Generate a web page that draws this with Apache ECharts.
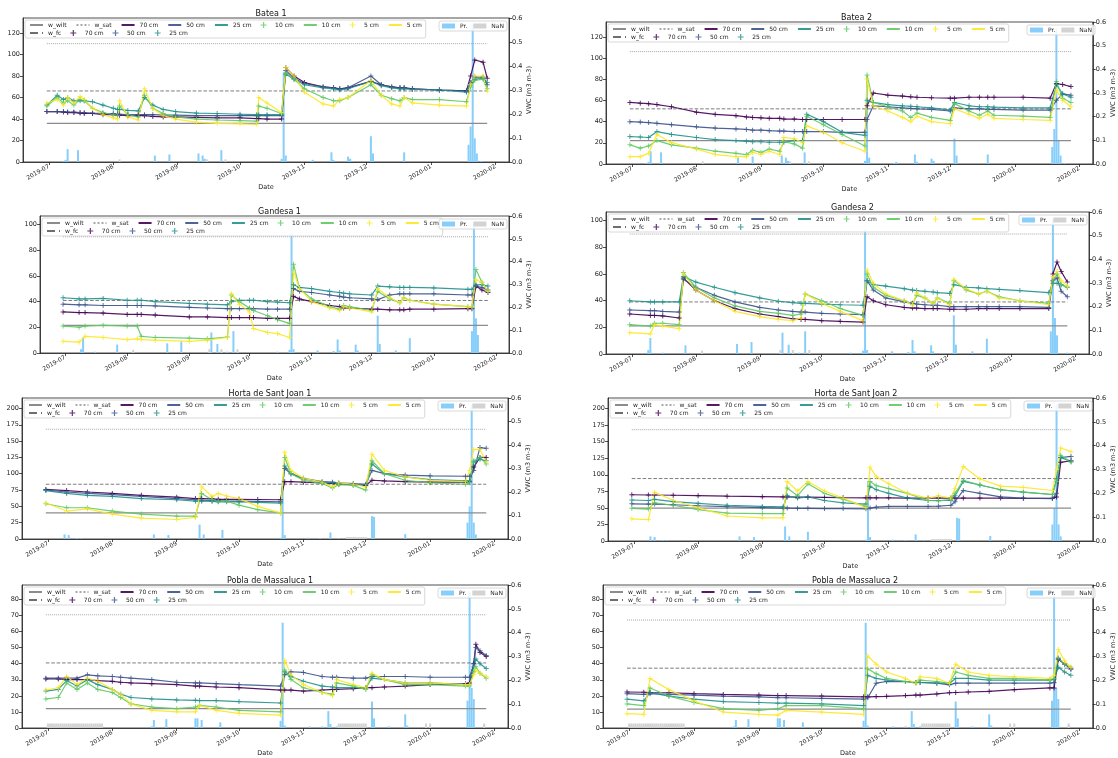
<!DOCTYPE html>
<html><head><meta charset="utf-8">
<script src="https://cdn.jsdelivr.net/npm/echarts@6/dist/echarts.min.js"></script>
<style>html,body{margin:0;padding:0;background:#fff}#c{width:1118px;height:758px}</style>
</head><body><div id="c"></div><script>
// ---------- reference lines (VWC) per panel ----------
const panelTitles = ['Batea 1','Batea 2','Gandesa 1','Gandesa 2','Horta de Sant Joan 1','Horta de Sant Joan 2','Pobla de Massaluca 1','Pobla de Massaluca 2'];
const wWilt = [0.161,0.099,0.121,0.119,0.111,0.138,0.081,0.079];
const wFc   = [0.296,0.233,0.230,0.220,0.233,0.262,0.273,0.251];
const wSat  = [0.493,0.475,0.509,0.507,0.467,0.467,0.475,0.453];
const refStart = '06-30', refEnd = '01-28';

// ---------- Batea 1 ----------
const b1Dates = ['06-30','07-05','07-08','07-10','07-13','07-16','07-18','07-22','07-27','08-01','08-03','08-04','08-08','08-13','08-16','08-20','08-25','08-31','09-10','09-20','10-01','10-09','10-10','10-14','10-21','10-23','10-27','11-01','11-10','11-15','11-18','11-22','12-03','12-08','12-13','12-17','12-19','12-23','01-05','01-18','01-20','01-22','01-26','01-28'];
const b1_70 = [.210,.210,.208,.206,.206,.204,.202,.202,.197,.197,.195,.195,.193,.193,.193,.190,.188,.188,.186,.184,.184,.181,.181,.179,.179,.394,.358,.331,.313,.309,.305,.309,.336,.322,.313,.309,.309,.305,.300,.296,.358,.425,.416,.349];
const b1_50 = [.210,.210,.210,.208,.208,.206,.206,.204,.202,.202,.199,.199,.197,.197,.197,.197,.195,.195,.193,.193,.193,.193,.193,.193,.193,.381,.349,.327,.313,.309,.305,.309,.358,.322,.313,.309,.309,.305,.300,.296,.331,.354,.354,.322];
const b1_25 = [.237,.278,.260,.269,.255,.255,.255,.251,.237,.224,.219,.219,.215,.213,.269,.237,.219,.210,.204,.202,.199,.197,.197,.197,.197,.367,.345,.322,.309,.305,.300,.305,.336,.318,.309,.305,.305,.302,.300,.291,.322,.345,.349,.331];
const b1_10 = [.233,.269,.246,.255,.237,.260,.255,.224,.206,.197,.193,.233,.197,.188,.278,.224,.202,.188,.179,.175,.172,.170,.233,.224,.202,.372,.345,.305,.269,.255,.255,.269,.322,.278,.264,.255,.269,.260,.260,.251,.313,.340,.345,.305];
const b1_5  = [.246,.260,.237,.269,.246,.273,.260,.224,.197,.184,.179,.255,.188,.175,.305,.224,.193,.179,.166,.161,.159,.157,.269,.246,.206,.394,.358,.291,.242,.233,.260,.269,.340,.278,.242,.233,.269,.246,.237,.233,.322,.358,.358,.296];

// ---------- Batea 2 ----------
const b2Dates = ['06-30','07-05','07-09','07-13','07-20','08-01','08-10','08-20','08-25','08-28','09-01','09-05','09-10','09-12','09-17','09-21','09-23','10-01','10-10','10-21','10-22','10-25','11-01','11-08','11-12','11-15','11-22','12-01','12-03','12-10','12-15','12-19','12-22','01-05','01-18','01-21','01-24','01-28'];
const b2_70 = [.260,.257,.255,.251,.242,.219,.210,.204,.199,.197,.195,.193,.193,.190,.190,.188,.188,.188,.188,.188,.246,.300,.291,.287,.284,.282,.280,.278,.278,.282,.282,.282,.282,.282,.278,.340,.336,.327];
const b2_50 = [.179,.177,.175,.172,.166,.157,.152,.148,.146,.143,.143,.141,.139,.139,.137,.137,.137,.137,.134,.134,.188,.246,.242,.237,.235,.233,.231,.224,.237,.233,.233,.231,.231,.228,.228,.269,.296,.291];
const b2_25 = [.116,.114,.112,.137,.125,.112,.103,.099,.096,.094,.094,.092,.092,.092,.099,.099,.210,.179,.134,.121,.269,.260,.251,.246,.244,.242,.237,.228,.260,.246,.242,.242,.240,.237,.237,.336,.296,.282];
const b2_10 = [.081,.067,.076,.099,.081,.067,.054,.045,.040,.058,.049,.063,.054,.094,.085,.067,.202,.166,.125,.076,.376,.260,.242,.224,.197,.215,.197,.184,.255,.224,.206,.224,.206,.202,.197,.349,.278,.260];
const b2_5  = [.031,.031,.045,.125,.090,.063,.040,.031,.031,.049,.040,.054,.040,.112,.107,.090,.161,.134,.090,.054,.358,.246,.224,.197,.179,.202,.179,.170,.233,.210,.193,.210,.193,.188,.184,.313,.269,.242];

// ---------- Gandesa 1 ----------
const g1Dates = ['06-30','07-08','07-11','07-20','08-01','08-06','08-08','08-15','09-01','09-10','09-20','09-22','09-26','10-01','10-03','10-10','10-15','10-21','10-23','10-26','11-01','11-10','11-15','11-17','11-20','12-01','12-04','12-10','12-15','12-17','12-20','01-01','01-18','01-20','01-22','01-25','01-28'];
const g1_70 = [.180,.177,.177,.175,.169,.169,.169,.166,.158,.158,.155,.155,.155,.155,.155,.152,.152,.152,.248,.237,.225,.208,.203,.197,.197,.192,.192,.189,.189,.189,.192,.192,.194,.194,.293,.276,.265];
const g1_50 = [.214,.211,.211,.208,.208,.208,.208,.206,.200,.197,.194,.194,.194,.194,.194,.192,.192,.192,.282,.270,.265,.254,.248,.245,.242,.237,.234,.254,.259,.259,.259,.259,.254,.254,.293,.287,.276];
const g1_25 = [.242,.237,.237,.239,.231,.231,.231,.225,.217,.214,.211,.225,.231,.231,.231,.225,.223,.220,.299,.287,.282,.270,.265,.262,.259,.254,.293,.290,.287,.287,.287,.285,.279,.279,.299,.299,.293];
const g1_10 = [.118,.113,.118,.121,.118,.118,.073,.068,.065,.062,.070,.254,.225,.197,.186,.163,.146,.130,.389,.282,.237,.203,.192,.208,.203,.186,.270,.237,.220,.242,.231,.214,.203,.203,.366,.310,.270];
const g1_5  = [.051,.048,.073,.068,.059,.062,.059,.056,.051,.056,.068,.259,.214,.180,.107,.090,.085,.068,.355,.282,.225,.197,.186,.203,.197,.180,.282,.242,.220,.242,.231,.214,.203,.203,.321,.310,.270];

// ---------- Gandesa 2 ----------
const g2Dates = ['06-30','07-10','07-12','07-16','07-24','07-26','08-01','08-10','08-20','09-01','09-10','09-17','09-21','09-23','10-01','10-10','10-21','10-23','10-26','11-01','11-10','11-14','11-16','11-20','11-24','11-26','12-02','12-04','12-10','12-16','12-20','12-26','01-05','01-19','01-21','01-23','01-25','01-28'];
const g2_70 = [.169,.163,.163,.161,.152,.321,.270,.225,.192,.169,.158,.149,.146,.146,.141,.138,.135,.242,.225,.208,.197,.194,.194,.192,.192,.192,.189,.189,.189,.192,.192,.192,.192,.192,.338,.389,.349,.304];
const g2_50 = [.186,.183,.183,.180,.177,.316,.282,.248,.220,.197,.186,.180,.177,.177,.172,.169,.166,.310,.270,.237,.220,.214,.211,.208,.206,.206,.200,.200,.200,.200,.200,.200,.200,.197,.310,.321,.265,.242];
const g2_25 = [.225,.220,.220,.220,.220,.327,.304,.282,.259,.237,.223,.217,.214,.214,.211,.208,.206,.310,.293,.287,.276,.270,.268,.265,.262,.259,.256,.293,.282,.279,.276,.273,.268,.259,.299,.299,.293,.282];
const g2_10 = [.124,.118,.130,.130,.124,.344,.282,.237,.203,.180,.172,.163,.169,.254,.225,.192,.163,.338,.282,.248,.225,.208,.248,.237,.214,.237,.214,.310,.270,.254,.265,.242,.225,.214,.310,.338,.293,.282];
const g2_5  = [.090,.085,.124,.118,.107,.338,.270,.225,.180,.158,.146,.141,.152,.254,.214,.180,.141,.355,.299,.254,.225,.208,.259,.237,.214,.237,.208,.316,.276,.254,.265,.237,.225,.208,.327,.349,.310,.287];

// ---------- Horta de Sant Joan 1 ----------
const h1Dates = ['06-30','07-10','07-20','08-01','08-15','09-01','09-10','09-13','09-18','09-21','09-25','10-01','10-10','10-21','10-23','10-26','11-01','11-10','11-15','11-18','11-25','12-01','12-04','12-10','12-20','01-01','01-18','01-20','01-22','01-25','01-28'];
const h1_70 = [.211,.206,.200,.194,.186,.178,.172,.172,.171,.169,.169,.169,.168,.167,.244,.244,.242,.239,.236,.233,.231,.228,.250,.247,.244,.242,.242,.244,.306,.347,.347];
const h1_50 = [.208,.200,.194,.189,.181,.172,.167,.165,.164,.163,.161,.161,.160,.158,.300,.278,.258,.244,.242,.239,.236,.233,.292,.278,.272,.269,.267,.267,.292,.389,.386];
const h1_25 = [.206,.194,.186,.181,.172,.167,.161,.161,.160,.158,.158,.158,.156,.153,.311,.278,.256,.242,.239,.236,.233,.231,.319,.278,.264,.253,.247,.247,.328,.339,.333];
const h1_10 = [.150,.133,.133,.119,.106,.097,.097,.194,.167,.161,.161,.144,.125,.111,.347,.278,.250,.236,.217,.231,.228,.208,.333,.278,.250,.239,.233,.239,.333,.347,.319];
const h1_5  = [.153,.119,.128,.106,.089,.083,.092,.222,.181,.194,.183,.172,.139,.111,.369,.292,.258,.242,.222,.239,.233,.222,.361,.292,.264,.250,.244,.292,.381,.381,.328];

// ---------- Horta de Sant Joan 2 ----------
const h2Dates = ['06-30','07-08','07-11','07-20','08-01','08-15','09-01','09-11','09-13','09-18','09-23','10-01','10-10','10-21','10-23','10-26','11-01','11-10','11-20','11-25','12-01','12-03','12-07','12-15','12-25','01-05','01-19','01-21','01-23','01-28'];
const h2_70 = [.194,.193,.193,.192,.190,.188,.186,.185,.185,.184,.184,.183,.182,.181,.181,.181,.181,.180,.180,.180,.180,.180,.180,.180,.180,.179,.179,.185,.330,.337];
const h2_50 = [.156,.155,.155,.152,.148,.144,.140,.138,.138,.137,.137,.136,.136,.135,.138,.142,.145,.145,.145,.146,.150,.165,.212,.200,.185,.180,.178,.200,.350,.355];
const h2_25 = [.172,.170,.175,.165,.158,.150,.145,.143,.190,.180,.185,.170,.160,.155,.230,.215,.200,.180,.170,.170,.170,.190,.250,.235,.215,.205,.195,.260,.350,.335];
const h2_10 = [.137,.134,.160,.150,.132,.117,.115,.115,.222,.190,.240,.200,.175,.145,.250,.232,.220,.200,.170,.168,.175,.200,.255,.235,.215,.205,.195,.250,.360,.330];
const h2_5  = [.093,.090,.205,.170,.140,.105,.097,.097,.250,.210,.250,.210,.180,.140,.309,.270,.240,.200,.180,.190,.180,.220,.313,.260,.230,.225,.212,.300,.390,.375];

// ---------- Pobla de Massaluca 1 ----------
const p1Dates = ['06-30','07-06','07-10','07-15','07-20','07-25','08-01','08-05','08-10','08-20','09-01','09-10','09-12','09-20','10-01','10-21','10-23','10-26','11-01','11-10','11-15','11-17','11-25','12-01','12-04','12-10','12-20','01-01','01-18','01-20','01-22','01-23','01-25','01-28'];
const p1_70 = [.206,.206,.203,.203,.203,.199,.196,.192,.189,.186,.182,.176,.176,.172,.169,.159,.159,.159,.155,.159,.162,.162,.165,.169,.169,.172,.176,.182,.186,.189,.270,.351,.317,.300];
const p1_50 = [.209,.209,.209,.209,.223,.219,.216,.213,.209,.203,.192,.189,.189,.186,.182,.176,.223,.236,.233,.216,.213,.213,.209,.209,.216,.216,.216,.213,.213,.213,.270,.338,.324,.304];
const p1_25 = [.155,.162,.199,.176,.203,.182,.162,.142,.128,.122,.118,.116,.115,.115,.111,.105,.236,.216,.196,.176,.172,.169,.169,.169,.209,.203,.189,.189,.182,.182,.257,.290,.270,.250];
const p1_10 = [.122,.128,.189,.162,.189,.162,.149,.128,.101,.088,.081,.088,.095,.088,.074,.068,.243,.203,.169,.149,.142,.189,.176,.162,.223,.203,.182,.182,.176,.176,.236,.257,.230,.209];
const p1_5  = [.159,.169,.216,.182,.209,.196,.162,.142,.101,.074,.068,.068,.095,.074,.061,.054,.284,.223,.182,.149,.135,.203,.182,.169,.230,.203,.189,.189,.182,.182,.223,.243,.230,.216];

// ---------- Pobla de Massaluca 2 ----------
const p2Dates = ['06-30','07-08','07-11','07-20','08-01','08-15','09-01','09-10','09-14','10-01','10-21','10-23','10-27','11-01','11-10','11-15','11-17','11-25','12-01','12-04','12-10','12-20','01-01','01-18','01-20','01-22','01-25','01-28'];
const p2_70 = [.151,.150,.149,.148,.144,.141,.138,.136,.136,.134,.131,.131,.132,.133,.136,.138,.138,.143,.148,.149,.151,.154,.161,.168,.168,.289,.268,.248];
const p2_50 = [.144,.141,.144,.141,.138,.134,.131,.127,.127,.124,.121,.127,.188,.195,.195,.191,.191,.188,.181,.188,.188,.188,.188,.188,.191,.289,.268,.248];
const p2_25 = [.121,.114,.148,.134,.121,.111,.107,.104,.104,.101,.094,.221,.208,.201,.195,.191,.191,.188,.188,.208,.208,.201,.201,.201,.205,.255,.235,.221];
const p2_10 = [.101,.094,.168,.134,.107,.081,.074,.081,.094,.094,.081,.248,.228,.208,.195,.188,.201,.195,.188,.235,.221,.208,.208,.201,.208,.295,.268,.255];
const p2_5  = [.060,.057,.208,.161,.114,.067,.057,.054,.074,.067,.057,.302,.268,.235,.208,.188,.215,.208,.188,.268,.235,.221,.215,.208,.221,.329,.282,.255];

// ---------- precipitation (mm) and missing-data markers per town ----------
const prBatea = [['07-08',1],['07-09',2],['07-10',12],['07-15',11],['08-21',6],['08-28',7],['09-11',8],['09-13',6],['09-14',3],['09-22',11],['10-21',3],['10-22',83],['10-23',6],['11-04',1],['11-05',2],['11-14',9],['11-15',2],['11-22',5],['11-23',3],['12-03',24],['12-04',8],['12-19',9],['01-19',16],['01-20',33],['01-21',128],['01-22',22],['01-23',8],['01-25',1]];
const prGandesa = [['07-09',3],['07-10',12],['07-16',1],['07-27',6.5],['08-21',7.5],['08-28',9],['09-12',16],['09-15',7],['09-20',1],['09-23',17],['10-15',1],['10-21',2.5],['10-22',93],['10-23',3],['11-04',2],['11-12',1.5],['11-14',10.5],['11-15',2],['11-23',6.5],['11-24',2],['12-04',29],['12-05',7],['12-13',2],['12-20',11.5],['01-20',17],['01-21',101],['01-22',27],['01-23',14],['01-28',1]];
const prHorta = [['07-09',7],['07-11',6],['07-15',1.5],['07-17',1],['08-21',7],['08-28',6],['09-12',22],['09-14',7],['09-23',14],['10-21',2],['10-22',90],['10-23',6],['11-03',2],['11-09',1.5],['11-14',10],['11-18',1],['12-04',35],['12-05',34],['12-20',7.5],['01-19',25],['01-20',50],['01-21',206],['01-22',25],['01-23',7]];
const prPobla = [['08-20',1],['08-21',5],['08-27',5.5],['09-10',6],['09-11',6],['09-13',5],['09-22',3.5],['10-21',4.5],['10-22',65.5],['10-23',1.5],['11-04',1],['11-10',1],['11-13',10.5],['11-14',2.5],['11-17',1],['12-04',16.5],['12-05',6],['12-12',1],['12-20',8.5],['12-21',1.5],['01-19',17],['01-20',85],['01-21',25],['01-22',18],['01-27',2]];
const nanBatea = [['08-04',2.5],['09-15',2.5],['09-24',2.5]];
const nanGandesa = [['08-04',2.5],['09-11',3],['09-17',3],['09-25',3]];
const nanHorta = [['11-22',3],['11-23',3],['11-24',3],['11-25',3],['11-26',3],['11-27',3],['11-28',3],['11-29',3],['11-30',3],['12-01',3]];
const nanPobla = [['07-01',2.8],['07-02',2.8],['07-03',2.8],['07-04',2.8],['07-05',2.8],['07-06',2.8],['07-07',2.8],['07-08',2.8],['07-09',2.8],['07-10',2.8],['07-11',2.8],['07-12',2.8],['07-13',2.8],['07-14',2.8],['07-15',2.8],['07-16',2.8],['07-17',2.8],['07-18',2.8],['07-19',2.8],['07-20',2.8],['07-21',2.8],['07-22',2.8],['07-23',2.8],['07-24',2.8],['07-25',2.8],['07-26',2.8],['07-27',2.8],['11-18',2.8],['11-19',2.8],['11-20',2.8],['11-21',2.8],['11-22',2.8],['11-23',2.8],['11-24',2.8],['11-25',2.8],['11-26',2.8],['11-27',2.8],['11-28',2.8],['11-29',2.8],['11-30',2.8],['12-01',2.8],['12-30',2.8],['01-01',2.8],['01-27',2.8]];

// ---------- build ----------
const FONT = 'DejaVu Sans';
const depthColors = {'70':'#440154','50':'#3b528b','25':'#21918c','10':'#5ec962','5':'#fde725'};
const depths = ['70','50','25','10','5'];
const PLUS = 'path://M4,0H6V4H10V6H6V10H4V6H0V4H4Z';
function toDate(md){ return ((+md.slice(0,2)) >= 6 ? '2019-' : '2020-') + md; }

const layout = [
  {l:23, t:18, w:486, h:144},
  {l:606, t:22, w:491, h:142},
  {l:40, t:216, w:469, h:137},
  {l:606, t:212, w:483, h:142},
  {l:22, t:398, w:486, h:141},
  {l:608, t:398, w:486, h:143},
  {l:22, t:585, w:486, h:144},
  {l:603, t:585, w:494, h:143}
];
const panels = [
  {dates:b1Dates, v:{'70':b1_70,'50':b1_50,'25':b1_25,'10':b1_10,'5':b1_5}, pr:prBatea, nan:nanBatea, lmax:134, lstep:20},
  {dates:b2Dates, v:{'70':b2_70,'50':b2_50,'25':b2_25,'10':b2_10,'5':b2_5}, pr:prBatea, nan:nanBatea, lmax:134, lstep:20},
  {dates:g1Dates, v:{'70':g1_70,'50':g1_50,'25':g1_25,'10':g1_10,'5':g1_5}, pr:prGandesa, nan:nanGandesa, lmax:106.5, lstep:20},
  {dates:g2Dates, v:{'70':g2_70,'50':g2_50,'25':g2_25,'10':g2_10,'5':g2_5}, pr:prGandesa, nan:nanGandesa, lmax:106.5, lstep:20},
  {dates:h1Dates, v:{'70':h1_70,'50':h1_50,'25':h1_25,'10':h1_10,'5':h1_5}, pr:prHorta, nan:nanHorta, lmax:216, lstep:25},
  {dates:h2Dates, v:{'70':h2_70,'50':h2_50,'25':h2_25,'10':h2_10,'5':h2_5}, pr:prHorta, nan:nanHorta, lmax:216, lstep:25},
  {dates:p1Dates, v:{'70':p1_70,'50':p1_50,'25':p1_25,'10':p1_10,'5':p1_5}, pr:prPobla, nan:nanPobla, lmax:89, lstep:10},
  {dates:p2Dates, v:{'70':p2_70,'50':p2_50,'25':p2_25,'10':p2_10,'5':p2_5}, pr:prPobla, nan:nanPobla, lmax:89, lstep:10}
];

const axisCol = '#222';
const lineItem = n => ({name:n, itemStyle:{opacity:0}});
const option = {animation:false, textStyle:{fontFamily:FONT}, title:[], grid:[], xAxis:[], yAxis:[], legend:[], series:[]};
panels.forEach((p, i) => {
  const g = layout[i];
  option.grid.push({left:g.l, top:g.t, width:g.w, height:g.h, show:true, borderColor:axisCol, borderWidth:0.8});
  option.title.push({text:panelTitles[i], left:g.l + g.w/2, top:g.t - 13, textAlign:'center',
    textStyle:{fontSize:8, fontWeight:'normal', fontFamily:FONT, color:'#111'}});
  option.xAxis.push({type:'time', gridIndex:i, min:'2019-06-19', max:'2020-02-07', splitNumber:8,
    name:'Date', nameLocation:'middle', nameGap:22, nameTextStyle:{fontSize:6.5, color:axisCol, fontFamily:FONT},
    axisLine:{lineStyle:{color:axisCol, width:0.8}}, axisTick:{length:3, lineStyle:{color:axisCol, width:0.8}},
    axisLabel:{rotate:30, fontSize:6, color:axisCol, margin:4, formatter:'{yyyy}-{MM}', fontFamily:FONT, hideOverlap:false},
    splitLine:{show:false}});
  option.yAxis.push({type:'value', gridIndex:i, min:0, max:p.lmax, interval:p.lstep, position:'left',
    axisLine:{show:true, lineStyle:{color:axisCol, width:0.8}}, axisTick:{show:true, length:3, lineStyle:{color:axisCol, width:0.8}},
    axisLabel:{fontSize:6.5, color:axisCol, margin:3, showMaxLabel:false, fontFamily:FONT}, splitLine:{show:false}});
  option.yAxis.push({type:'value', gridIndex:i, min:0, max:0.6, interval:0.1, position:'right',
    name:'VWC (m3 m-3)', nameLocation:'middle', nameRotate:90, nameGap:17, nameTextStyle:{fontSize:6.5, color:axisCol, fontFamily:FONT},
    axisLine:{show:true, lineStyle:{color:axisCol, width:0.8}}, axisTick:{show:true, length:3, lineStyle:{color:axisCol, width:0.8}},
    axisLabel:{fontSize:6.5, color:axisCol, margin:3, formatter:v => v.toFixed(1), fontFamily:FONT}, splitLine:{show:false}});
  const yl = 2*i, yr = 2*i + 1;
  option.series.push({type:'bar', name:'Pr.', xAxisIndex:i, yAxisIndex:yl, barWidth:2, z:1,
    itemStyle:{color:'#87cefa'}, data:p.pr.map(([d, v]) => [toDate(d), v])});
  option.series.push({type:'bar', name:'NaN', xAxisIndex:i, yAxisIndex:yl, barWidth:2, barGap:'-100%', z:1,
    itemStyle:{color:'#d3d3d3'}, data:p.nan.map(([d, v]) => [toDate(d), v])});
  const ref = (name, val, color, type, width) => ({type:'line', name, xAxisIndex:i, yAxisIndex:yr, symbol:'none', z:2,
    lineStyle:{color, type, width}, itemStyle:{color}, data:[[toDate(refStart), val], [toDate(refEnd), val]]});
  option.series.push(ref('w_wilt', wWilt[i], '#8c8c8c', 'solid', 1.3));
  option.series.push(ref('w_fc', wFc[i], '#6e6e6e', 'dashed', 0.9));
  option.series.push(ref('w_sat', wSat[i], '#a8a8a8', 'dotted', 1));
  depths.forEach(d => {
    const data = p.dates.map((dt, k) => [toDate(dt), p.v[d][k]]);
    option.series.push({type:'line', name:d + ' cm', xAxisIndex:i, yAxisIndex:yr, symbol:'none', z:3,
      lineStyle:{color:depthColors[d], width:1.2, opacity:0.9}, itemStyle:{color:depthColors[d]}, data});
    option.series.push({type:'scatter', name:'#' + d + ' cm', xAxisIndex:i, yAxisIndex:yr, symbol:PLUS, symbolSize:5, z:4,
      itemStyle:{color:depthColors[d]}, data});
  });
  const legText = {fontSize:6, color:'#222', width:18, fontFamily:FONT};
  option.legend.push({left:g.l + 2, top:g.t + 2, orient:'horizontal', itemWidth:13, itemHeight:6, itemGap:9,
    padding:[2,4,10,4], borderColor:'#cfcfcf', borderWidth:0.8, borderRadius:2, backgroundColor:'rgba(255,255,255,0.85)',
    textStyle:legText, formatter:n => n.replace('#',''), selectedMode:false,
    data:[lineItem('w_wilt'), lineItem('w_sat'), lineItem('70 cm'), lineItem('50 cm'), lineItem('25 cm'), '#10 cm', lineItem('10 cm'), '#5 cm', lineItem('5 cm')]});
  option.legend.push({left:g.l + 2, top:g.t + 12, orient:'horizontal', itemWidth:13, itemHeight:6, itemGap:9,
    padding:[0,4,0,4], textStyle:legText, formatter:n => n.replace('#',''), selectedMode:false,
    data:[lineItem('w_fc'), '#70 cm', '#50 cm', '#25 cm']});
  option.legend.push({right:1118 - (g.l + g.w) + 2, top:g.t + 3, orient:'horizontal', itemWidth:13, itemHeight:5, itemGap:6,
    icon:'rect', padding:[2,3,2,3], borderColor:'#cfcfcf', borderWidth:0.8, borderRadius:2, backgroundColor:'rgba(255,255,255,0.85)',
    textStyle:{fontSize:6, color:'#222', fontFamily:FONT}, selectedMode:false, data:['Pr.','NaN']});
});

const chart = echarts.init(document.getElementById('c'), null, {renderer:'canvas'});
chart.setOption(option);
</script></body></html>
